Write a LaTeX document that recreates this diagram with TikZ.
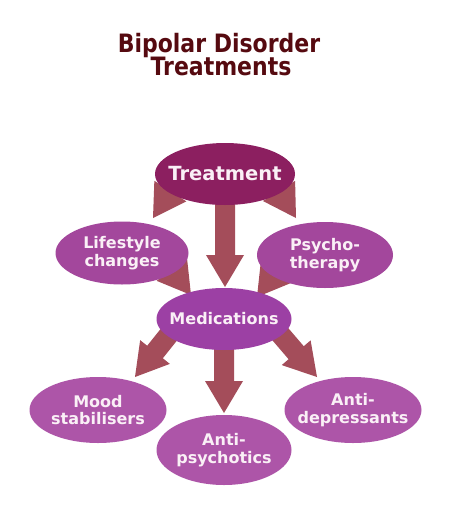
\documentclass[tikz,border=0pt]{standalone}
\usepackage{fontspec}
\setmainfont{DejaVu Sans}
\usetikzlibrary{calc,shapes.geometric}
\pgfdeclarelayer{paper}
\pgfdeclarelayer{background}
\pgfsetlayers{paper,background,main}
\definecolor{titlec}{HTML}{560A10}
\definecolor{treatc}{HTML}{8C1F60}
\definecolor{midc}{HTML}{A3479C}
\definecolor{medc}{HTML}{9C40A4}
\definecolor{leafc}{HTML}{AD55A8}
\definecolor{arrowc}{HTML}{A44D5A}
\definecolor{txtc}{HTML}{FAF0F6}
\tikzset{
  bub/.style={ellipse, inner sep=0pt, draw=none},
  btxt/.style={text=txtc, align=center, inner sep=0pt,
    font=\bfseries\fontsize{16}{17.5}\selectfont},
  ttl/.style={text=titlec, anchor=base, inner sep=0pt,
    font=\bfseries\fontsize{22}{24}\selectfont},
}
\newcommand\barrow[2]{%
  \coordinate (ba-h) at ($(#2)!32pt!(#1)$);
  \fill[arrowc] ($(#1)!10pt!90:(#2)$) -- ($(ba-h)!10pt!-90:(#1)$) --
    ($(ba-h)!19pt!-90:(#1)$) -- (#2) -- ($(ba-h)!19pt!90:(#1)$) --
    ($(ba-h)!10pt!90:(#1)$) -- ($(#1)!10pt!-90:(#2)$) -- cycle;}
\begin{document}
\begin{tikzpicture}[x=1pt,y=-1pt]
\begin{pgfonlayer}{paper}
\fill[white] (0,0) rectangle (474,520);
\end{pgfonlayer}
\useasboundingbox (0,0) rectangle (474,520);
% title
\node[ttl] (t1) at (219,52) {\scalebox{1}[1.15]{Bipolar Disorder}};
\node[ttl] (t2) at (221,75) {\scalebox{1}[1.15]{Treatments}};
% ellipses
\node[bub, fill=treatc, minimum width=140, minimum height=62] (treat) at (225,174) {};
\node[bub, fill=midc, minimum width=133, minimum height=63] (life) at (122,253) {};
\node[bub, fill=midc, minimum width=136, minimum height=66] (psy) at (325,255) {};
\node[bub, fill=medc, minimum width=135, minimum height=62] (med) at (224,319) {};
\node[bub, fill=leafc, minimum width=137, minimum height=66] (mood) at (98,410) {};
\node[bub, fill=leafc, minimum width=135, minimum height=70] (apsy) at (224,450) {};
\node[bub, fill=leafc, minimum width=137, minimum height=66] (dep) at (353,410) {};
% texts
\node[btxt, font=\bfseries\fontsize{19.5}{21}\selectfont] (treat-t) at (treat) {Treatment};
\node[btxt] (life-t) at (life) {Lifestyle\\changes};
\node[btxt] (psy-t) at (psy) {Psycho-\\therapy};
\node[btxt] (med-t) at (med) {Medications};
\node[btxt] (mood-t) at (mood) {Mood\\stabilisers};
\node[btxt] (apsy-t) at (apsy) {Anti-\\psychotics};
\node[btxt] (dep-t) at (dep) {Anti-\\depressants};
% arrow anchor points
\coordinate (s1) at ($(treat)+(-34,-15)$); \coordinate (e1) at ($(life)+(31,-35)$);
\coordinate (s2) at ($(treat)+(34,-15)$);  \coordinate (e2) at ($(psy)+(-29,-37)$);
\coordinate (s3) at ($(treat)+(0,6)$);     \coordinate (e3) at ($(med)+(1,-32)$);
\coordinate (s4) at ($(life)+(27,-14)$);   \coordinate (e4) at ($(med)+(-33,-24)$);
\coordinate (s5) at ($(psy)+(-26,-14)$);   \coordinate (e5) at ($(med)+(33,-22)$);
\coordinate (s6) at ($(med)+(-33,-12)$);   \coordinate (e6) at ($(mood)+(37,-33)$);
\coordinate (s7) at ($(med)+(0,11)$);      \coordinate (e7) at ($(apsy)+(0,-37)$);
\coordinate (s8) at ($(med)+(33,-12)$);    \coordinate (e8) at ($(dep)+(-36,-33)$);
\begin{pgfonlayer}{background}
\barrow{s1}{e1}
\barrow{s2}{e2}
\barrow{s3}{e3}
\barrow{s4}{e4}
\barrow{s5}{e5}
\barrow{s6}{e6}
\barrow{s7}{e7}
\barrow{s8}{e8}
\end{pgfonlayer}
\end{tikzpicture}
\end{document}
